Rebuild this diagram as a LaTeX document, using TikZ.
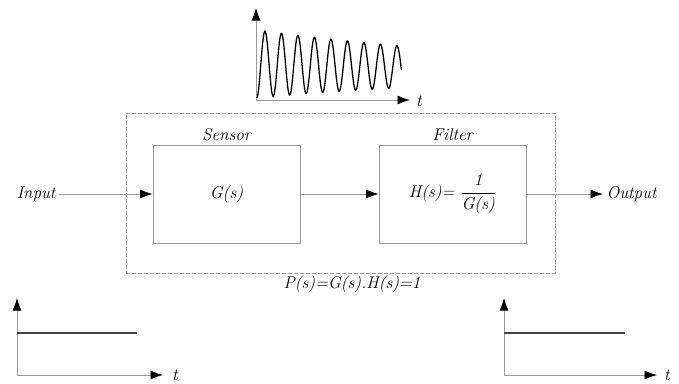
\documentclass[tikz,border=0pt]{standalone}
\usepackage{amsmath}
\usepackage{fontspec}
\usetikzlibrary{arrows.meta,positioning}
\definecolor{linegray}{HTML}{9A9A9A}
\definecolor{stepgray}{HTML}{454545}
\tikzset{
  txt/.style={font=\fontsize{17}{20}\selectfont\itshape},
  blockbox/.style={draw=linegray,line width=0.8pt,minimum width=147pt,minimum height=98pt,txt},
  sig/.style={draw=linegray,line width=0.8pt,-{Latex[length=12.5pt,width=9pt,color=black]}},
  axis/.style={draw=linegray,line width=0.8pt,-{Latex[length=12.5pt,width=9pt,color=black]}},
}
\begin{document}
\begin{tikzpicture}[x=1pt,y=-1pt]
  \useasboundingbox (0,0) rectangle (679,383);
  % system boundary
  \node[draw=linegray,dashed,dash pattern=on 4pt off 2pt,line width=0.6pt,
        minimum width=429pt,minimum height=160pt] (sys) at (340.5,193) {};
  \node[txt] (plabel) at (352,284) {P(s)=G(s).H(s)=1};
  % blocks
  \node[blockbox] (sensor) at (226.5,194) {G(s)};
  \node[blockbox] (filter) at (452.5,194) {H(s)= $\dfrac{\textit{1}}{\textit{G(s)}}$};
  \node[txt,above=0pt of sensor] (sensorlbl) {Sensor};
  \node[txt,above=0pt of filter] (filterlbl) {Filter};
  \node[txt,anchor=east] (input) at (59,194) {Input};
  \node[txt,anchor=west] (output) at (603,194) {Output};
  \draw[sig] (input) -- (sensor);
  \draw[sig] (sensor) -- (filter);
  \draw[sig] (filter) -- (output);
  % sensor response
  \coordinate (o1) at (256,100);
  \coordinate (y1) at (256,8);
  \coordinate (x1) at (410,100);
  \draw[axis] (o1) -- (y1);
  \draw[axis] (o1) -- (x1);
  \node[txt,inner sep=1pt] (t1) at (419,101) {t};
  \draw[black,line width=1.3pt] plot[domain=256.7:401.5,samples=300]
    (\x,{64+0.02*(\x-256)+34*exp(-0.0034*(\x-256))*cos((\x-256.7)/16.5*360)});
  % input step
  \coordinate (o2) at (17,375);
  \coordinate (y2) at (17,298);
  \coordinate (x2) at (163,375);
  \draw[axis] (o2) -- (y2);
  \draw[axis] (o2) -- (x2);
  \node[txt,inner sep=1pt] (t2) at (175,375) {t};
  \draw[stepgray,line width=1.5pt] (17,333) -- (137,333);
  % output step
  \coordinate (o3) at (504,375);
  \coordinate (y3) at (504,298);
  \coordinate (x3) at (657,375);
  \draw[axis] (o3) -- (y3);
  \draw[axis] (o3) -- (x3);
  \node[txt,inner sep=1pt] (t3) at (667,375) {t};
  \draw[stepgray,line width=1.5pt] (504,333) -- (625,333);
\end{tikzpicture}
\end{document}
